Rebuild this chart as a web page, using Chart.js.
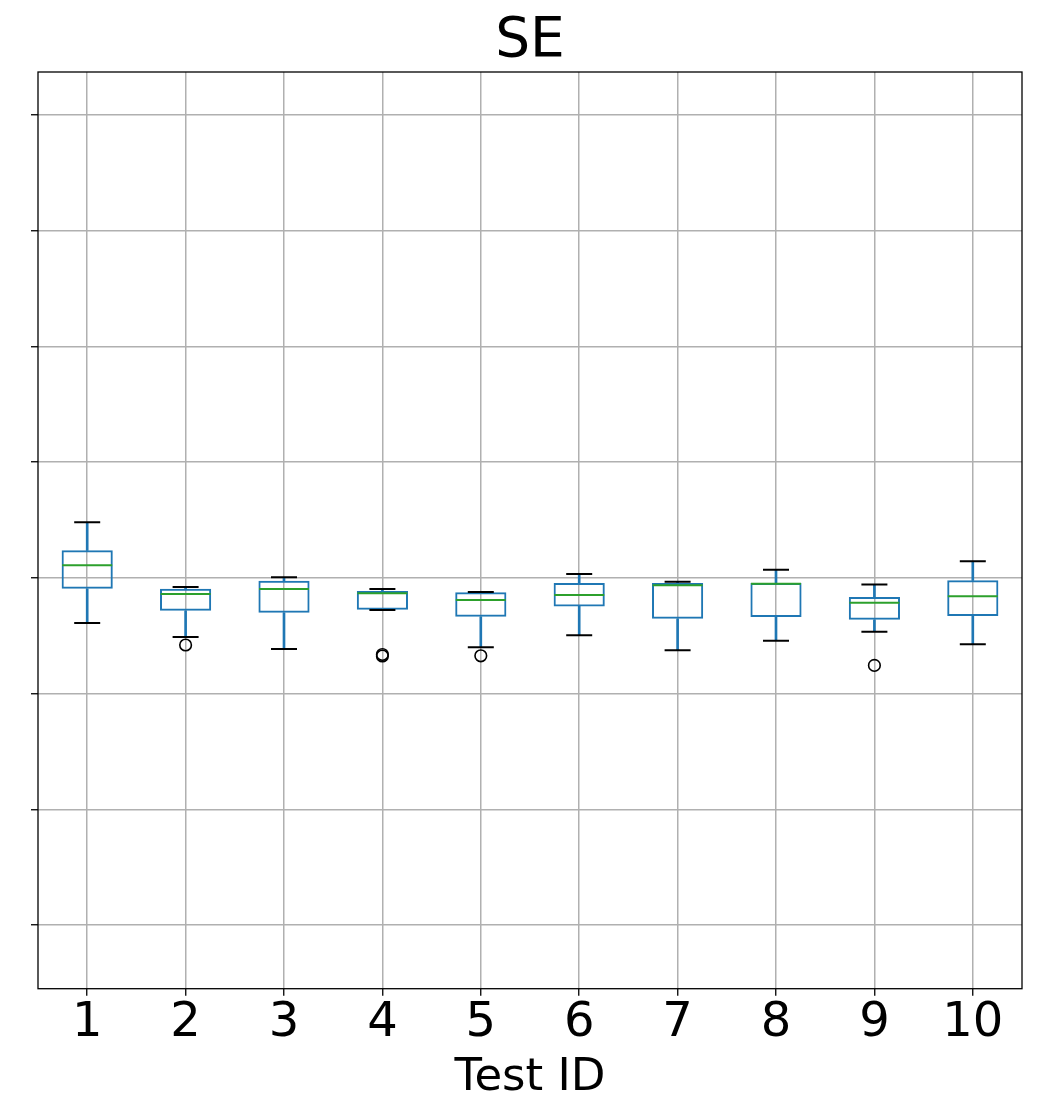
<!DOCTYPE html>
<html>
<head>
<meta charset="utf-8">
<script src="https://cdn.jsdelivr.net/npm/chart.js@4.4.0/dist/chart.umd.min.js"></script>
<style>
  html, body { margin: 0; padding: 0; background: #fff; }
  #wrap { width: 1051px; height: 1103px; }
</style>
</head>
<body>
<div id="wrap"><canvas id="chartSE" width="1051" height="1103"></canvas></div>
<script>
// ==================================================
// SE por teste - boxplot
// ==================================================

const testIds = ['1', '2', '3', '4', '5', '6', '7', '8', '9', '10'];

// estatísticas de cada caixa
const whiskerLow  = [2.610, 2.489, 2.385, 2.722, 2.400, 2.504, 2.374, 2.457, 2.535, 2.426];
const quartil1    = [2.906, 2.716, 2.698, 2.725, 2.664, 2.754, 2.647, 2.662, 2.638, 2.670];
const medianas    = [3.109, 2.861, 2.904, 2.867, 2.809, 2.852, 2.936, 2.950, 2.785, 2.841];
const quartil3    = [3.238, 2.906, 2.976, 2.886, 2.875, 2.956, 2.956, 2.956, 2.835, 2.979];
const whiskerHigh = [3.480, 2.921, 3.005, 2.904, 2.878, 3.033, 2.967, 3.071, 2.944, 3.143];

// pontos fora dos bigodes
const outlierIds    = ['2', '4', '4', '5', '9'];
const outlierValues = [2.420, 2.338, 2.325, 2.327, 2.244];

// eixo y: linhas de grade a cada 1, sem rótulos
const yMin = -0.55;
const yMax = 7.372;
const yStep = 1;

const AZUL = '#1f77b4';
const VERDE = '#2ca02c';
const FONTE = "'DejaVu Sans', sans-serif";
const LARGURA = 2;

// moldura completa da área do gráfico
const molduraPlugin = {
    id: 'moldura',
    afterDraw(chart) {
        const { ctx, chartArea: a } = chart;
        ctx.save();
        ctx.strokeStyle = '#000';
        ctx.lineWidth = 1.3;
        ctx.strokeRect(a.left, a.top, a.right - a.left, a.bottom - a.top);
        ctx.restore();
    }
};

const ctx = document.getElementById('chartSE').getContext('2d');

new Chart(ctx, {
    data: {
        labels: testIds,
        datasets: [
            {
                // bigode inferior
                type: 'bar',
                data: testIds.map((_, i) => [whiskerLow[i], quartil1[i]]),
                backgroundColor: AZUL,
                borderWidth: 0,
                barThickness: LARGURA,
                grouped: false,
                order: 5
            },
            {
                // bigode superior
                type: 'bar',
                data: testIds.map((_, i) => [quartil3[i], whiskerHigh[i]]),
                backgroundColor: AZUL,
                borderWidth: 0,
                barThickness: LARGURA,
                grouped: false,
                order: 5
            },
            {
                // caixa Q1-Q3
                type: 'bar',
                data: testIds.map((_, i) => [quartil1[i], quartil3[i]]),
                backgroundColor: 'rgba(0,0,0,0)',
                borderColor: AZUL,
                borderWidth: LARGURA,
                borderSkipped: false,
                categoryPercentage: 1,
                barPercentage: 0.52,
                grouped: false,
                order: 4
            },
            {
                // limites dos bigodes
                type: 'line',
                data: whiskerLow,
                showLine: false,
                pointStyle: 'line',
                pointRadius: 13,
                borderColor: '#000',
                borderWidth: LARGURA,
                order: 3
            },
            {
                type: 'line',
                data: whiskerHigh,
                showLine: false,
                pointStyle: 'line',
                pointRadius: 13,
                borderColor: '#000',
                borderWidth: LARGURA,
                order: 3
            },
            {
                // mediana
                type: 'line',
                data: medianas,
                showLine: false,
                pointStyle: 'line',
                pointRadius: 25,
                borderColor: VERDE,
                borderWidth: LARGURA,
                order: 2
            },
            {
                // outliers
                type: 'line',
                data: outlierIds.map((id, i) => ({ x: id, y: outlierValues[i] })),
                showLine: false,
                pointStyle: 'circle',
                pointRadius: 5.8,
                backgroundColor: 'rgba(0,0,0,0)',
                borderColor: '#000',
                borderWidth: 1.6,
                order: 1
            }
        ]
    },
    options: {
        responsive: false,
        animation: false,
        devicePixelRatio: 1,
        layout: {
            padding: { left: 0, right: 29, top: 0, bottom: 0 }
        },
        plugins: {
            legend: { display: false },
            tooltip: { enabled: false },
            title: {
                display: true,
                fullSize: false,
                text: 'SE',
                color: '#000',
                font: { family: FONTE, size: 55, weight: 'normal', lineHeight: 1.1 },
                padding: { top: 11.5, bottom: 0 }
            }
        },
        scales: {
            x: {
                type: 'category',
                offset: true,
                afterFit(scale) { scale.height = 114.3; },
                grid: {
                    offset: false,
                    color: '#b0b0b0',
                    lineWidth: 1.5,
                    tickColor: '#000',
                    tickLength: 7,
                    tickWidth: 1.3
                },
                border: { display: false },
                ticks: {
                    color: '#000',
                    font: { family: FONTE, size: 48, lineHeight: 1 },
                    padding: 4,
                    maxRotation: 0,
                    autoSkip: false
                },
                title: {
                    display: true,
                    text: 'Test ID',
                    color: '#000',
                    font: { family: FONTE, size: 45, lineHeight: 1.1 },
                    padding: { top: 0, bottom: 0 }
                }
            },
            y: {
                min: yMin,
                max: yMax,
                afterFit(scale) { scale.width = 38; },
                grid: {
                    color: '#b0b0b0',
                    lineWidth: 1.5,
                    tickColor: '#000',
                    tickLength: 7,
                    tickWidth: 1.3
                },
                border: { display: false },
                ticks: {
                    stepSize: yStep,
                    includeBounds: false,
                    autoSkip: false,
                    padding: 0,
                    callback: () => ''
                }
            }
        }
    },
    plugins: [molduraPlugin]
});
</script>
</body>
</html>
